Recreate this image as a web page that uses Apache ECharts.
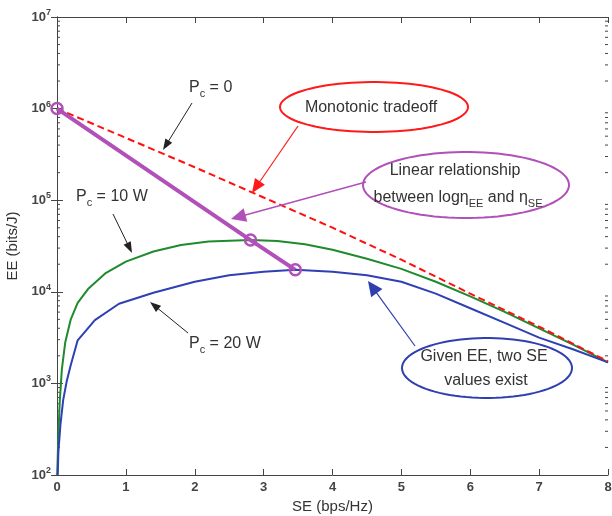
<!DOCTYPE html>
<html>
<head>
<meta charset="utf-8">
<script src="https://cdn.jsdelivr.net/npm/echarts@6/dist/echarts.min.js"></script>
<style>html,body{margin:0;padding:0;background:#fff}#c{width:612px;height:516px}</style>
</head>
<body>
<div id="c"></div>
<script>
// ---- data ----
const seRed = [0, 1, 2, 3, 4, 5, 6, 7, 8];
const eeRed = [1e6, 4.79e5, 2.29e5, 1.07e5, 5.01e4, 2.24e4, 9.55e3, 4.17e3, 1.74e3];

const seGreen = [0.003, 0.02, 0.04, 0.07, 0.12, 0.2, 0.3, 0.45, 0.7, 1.0, 1.4, 1.8, 2.2, 2.81, 3.2, 3.6, 4.0, 4.5, 5.0, 5.5, 6.0, 6.5, 7.0, 7.5, 8.0];
const eeGreen = [100, 282, 631, 1413, 2818, 5012, 7586, 10715, 15849, 21380, 27542, 32359, 35481, 36728, 35892, 33113, 28840, 22909, 17783, 12882, 8913, 6026, 3981, 2630, 1698];

const seBlue = [0.01, 0.02, 0.05, 0.09, 0.14, 0.2, 0.3, 0.55, 0.9, 1.4, 2.0, 2.5, 3.0, 3.46, 4.0, 4.5, 5.0, 5.5, 6.0, 6.5, 7.0, 7.5, 8.0];
const eeBlue = [100, 178, 355, 661, 1047, 1585, 2951, 4898, 7413, 9772, 12882, 15136, 16596, 17378, 16596, 15136, 12882, 9550, 6607, 4571, 3162, 2344, 1698];

const sePurple = [0, 2.81, 3.46];
const eePurple = [1e6, 36728, 17378];

const xTicks = [0, 1, 2, 3, 4, 5, 6, 7, 8];

// minor tick values for log axis
const minorVals = [];
for (let d = 2; d < 7; d++) for (let m = 2; m <= 9; m++) minorVals.push(m * Math.pow(10, d));

const zip = (a, b) => a.map((v, i) => [v, b[i]]);

const chart = echarts.init(document.getElementById('c'));
const axisCol = '#444';
const txtCol = '#333';
const FONT = '16px Liberation Sans';

function arrow(x1, y1, x2, y2, color, w, hl, hw) {
  const dx = x2 - x1, dy = y2 - y1, L = Math.hypot(dx, dy);
  const ux = dx / L, uy = dy / L;
  const bx = x2 - ux * hl, by = y2 - uy * hl;
  return [
    { type: 'line', shape: { x1: x1, y1: y1, x2: bx + ux * 1, y2: by + uy * 1 }, style: { stroke: color, lineWidth: w }, z: 100 },
    { type: 'polygon', shape: { points: [[x2, y2], [bx - uy * hw, by + ux * hw], [bx + uy * hw, by - ux * hw]] }, style: { fill: color }, z: 100 }
  ];
}
function ellipse(cx, cy, rx, ry, color, w) {
  const pts = [];
  for (let i = 0; i < 90; i++) { const t = i / 90 * Math.PI * 2; pts.push([cx + rx * Math.cos(t), cy + ry * Math.sin(t)]); }
  return { type: 'polygon', shape: { points: pts }, style: { fill: '#fff', stroke: color, lineWidth: w }, z: 90 };
}
const richSub = {
  n: { fontSize: 16, fontFamily: 'Liberation Sans, Arial', color: txtCol },
  s: { fontSize: 11, fontFamily: 'Liberation Sans, Arial', color: txtCol, padding: [12, 0, 0, 0] }
};
function rtext(x, y, str, align) {
  return { type: 'text', x: x, y: y, z: 110, style: { text: str, rich: richSub, align: align || 'left', verticalAlign: 'middle', fill: txtCol, font: FONT } };
}
function ptext(x, y, str) {
  return { type: 'text', x: x, y: y, z: 110, style: { text: str, align: 'center', verticalAlign: 'middle', fill: txtCol, font: FONT } };
}

const graphics = [].concat(
  // P_c labels
  [rtext(189, 88, '{n|P}{s|c}{n| = 0}')],
  arrow(192, 103, 163, 150, '#222', 1, 11, 4),
  [rtext(76, 197, '{n|P}{s|c}{n| = 10 W}')],
  arrow(113, 214, 132, 253, '#222', 1, 11, 4),
  [rtext(189, 344, '{n|P}{s|c}{n| = 20 W}')],
  arrow(188, 333, 150, 302, '#222', 1, 11, 4),
  // Monotonic tradeoff
  arrow(298, 126, 252, 193, '#ff1a1a', 1.2, 14, 6),
  [ellipse(374, 107, 94, 25, '#ff1a1a', 2), ptext(371, 108, 'Monotonic tradeoff')],
  // Linear relationship
  arrow(366, 182, 231, 219, '#b050b8', 1.5, 15, 7),
  [ellipse(466, 185, 103, 33, '#b050b8', 2), ptext(455, 171, 'Linear relationship'),
   rtext(458, 198, '{n|between logη}{s|EE}{n| and η}{s|SE}', 'center')],
  // Given EE
  arrow(415, 346, 368, 281, '#2f3fb0', 1.2, 15, 7),
  [ellipse(487, 368, 85, 30, '#2f3fb0', 2), ptext(484, 357, 'Given EE, two SE'), ptext(486, 381, 'values exist')]
);

const option = {
  animation: false,
  backgroundColor: '#fff',
  grid: { left: 57, right: 4, top: 17, bottom: 41, containLabel: false, outerBoundsMode: 'none' },
  xAxis: [
    {
      type: 'value', min: 0, max: 8, interval: 1, position: 'bottom',
      name: 'SE (bps/Hz)', nameLocation: 'middle', nameGap: 21,
      nameTextStyle: { fontSize: 15, fontFamily: 'Liberation Sans', color: txtCol },
      axisLine: { lineStyle: { color: axisCol, width: 1 } },
      axisTick: { inside: true, length: 6, lineStyle: { color: axisCol } },
      axisLabel: { fontSize: 13, fontWeight: 'bold', fontFamily: 'Liberation Sans', color: '#444', margin: 6, formatter: v => xTicks.includes(v) ? String(v) : '' },
      splitLine: { show: false }
    },
    {
      type: 'value', min: 0, max: 8, interval: 1, position: 'top',
      axisLine: { lineStyle: { color: axisCol, width: 1 } },
      axisTick: { inside: true, length: 6, lineStyle: { color: axisCol } },
      axisLabel: { show: false }, splitLine: { show: false }
    }
  ],
  yAxis: [
    {
      type: 'log', logBase: 10, min: 100, max: 1e7, position: 'left',
      name: 'EE (bits/J)', nameLocation: 'middle', nameGap: 33, nameRotate: 90,
      nameTextStyle: { fontSize: 15, fontFamily: 'Liberation Sans', color: txtCol },
      axisLine: { show: true, lineStyle: { color: axisCol, width: 1 } },
      axisTick: { inside: true, length: 6, lineStyle: { color: axisCol } },
      axisLabel: {
        margin: 6,
        formatter: v => '{b|10}{p|' + Math.round(Math.log10(v)) + '}',
        rich: {
          b: { fontSize: 13, fontWeight: 'bold', fontFamily: 'Liberation Sans', color: '#444' },
          p: { fontSize: 9, fontWeight: 'bold', fontFamily: 'Liberation Sans', color: '#444', padding: [0, 0, 9, 0] }
        }
      },
      splitLine: { show: false }
    },
    {
      type: 'log', logBase: 10, min: 100, max: 1e7, position: 'right',
      axisLine: { show: true, lineStyle: { color: axisCol, width: 1 } },
      axisTick: { inside: true, length: 6, lineStyle: { color: axisCol } },
      axisLabel: { show: false }, splitLine: { show: false }
    }
  ],
  series: [
    {
      type: 'custom', silent: true, z: 1,
      data: minorVals.map(v => [0, v]),
      renderItem: (params, api) => {
        const v = api.value(1);
        const l = api.coord([0, v]);
        const r = api.coord([8, v]);
        return {
          type: 'group', children: [
            { type: 'line', shape: { x1: l[0], y1: l[1], x2: l[0] + 3, y2: l[1] }, style: { stroke: axisCol, lineWidth: 1 } },
            { type: 'line', shape: { x1: r[0], y1: r[1], x2: r[0] - 3, y2: r[1] }, style: { stroke: axisCol, lineWidth: 1 } }
          ]
        };
      }
    },
    {
      name: 'Pc=10W', type: 'line', data: zip(seGreen, eeGreen), showSymbol: false,
      smooth: false,
      lineStyle: { color: '#1f8a2e', width: 2 }, z: 3
    },
    {
      name: 'Pc=20W', type: 'line', data: zip(seBlue, eeBlue), showSymbol: false,
      smooth: false,
      lineStyle: { color: '#2f3fb4', width: 2 }, z: 3
    },
    {
      name: 'Pc=0', type: 'line', data: zip(seRed, eeRed), showSymbol: false,
      smooth: false,
      lineStyle: { color: '#ff1010', width: 2, type: [7, 4] }, z: 4
    },
    {
      name: 'linear', type: 'line', data: zip(sePurple, eePurple),
      symbol: 'circle', symbolSize: 11, showSymbol: true,
      itemStyle: { color: 'rgba(0,0,0,0)', borderColor: '#b050b8', borderWidth: 2.5 },
      lineStyle: { color: '#b050b8', width: 4 }, z: 5
    }
  ],
  graphic: graphics
};
chart.setOption(option);
</script>
</body>
</html>
